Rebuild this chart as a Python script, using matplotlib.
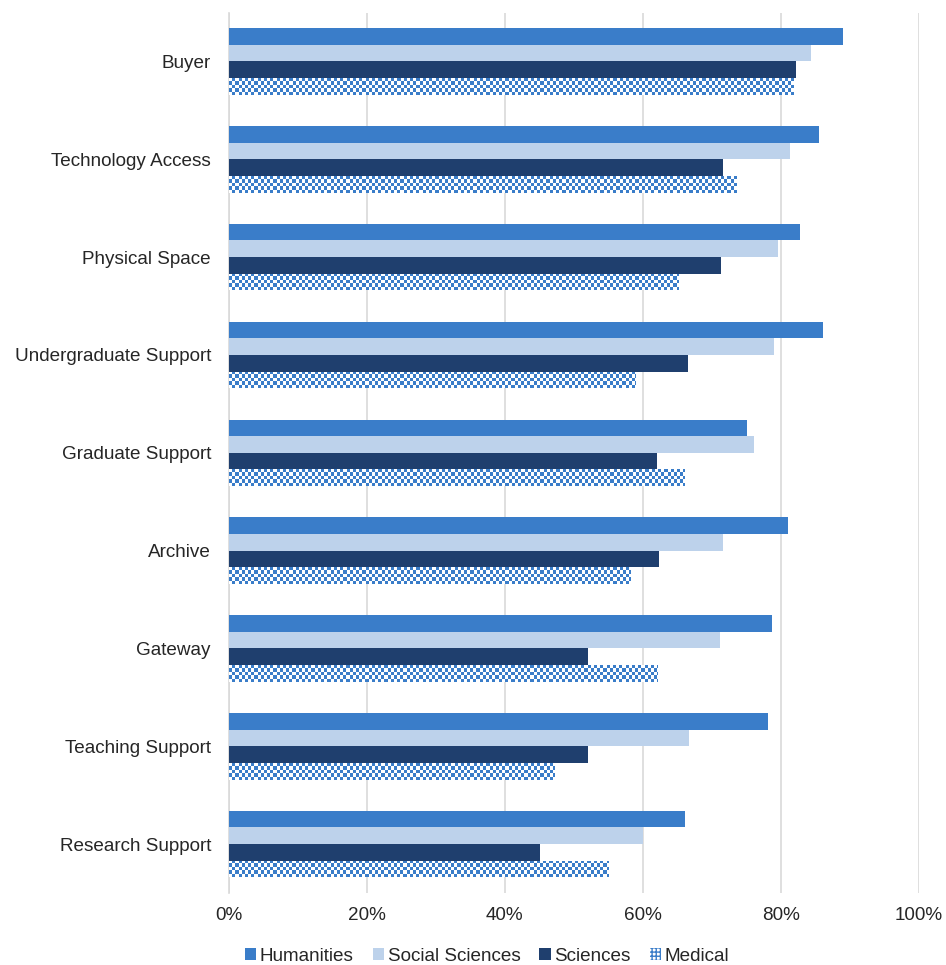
import numpy as np
import matplotlib
matplotlib.use("Agg")
import matplotlib.pyplot as plt
from matplotlib.colors import ListedColormap
from matplotlib.patches import Patch
from matplotlib.ticker import PercentFormatter

plt.rcParams['font.family'] = ['Liberation Sans', 'DejaVu Sans']

# datos (en %)
categorias = ['Buyer', 'Technology Access', 'Physical Space', 'Undergraduate Support',
              'Graduate Support', 'Archive', 'Gateway', 'Teaching Support', 'Research Support']
humanities = [89.0, 85.6, 82.8, 86.2, 75.1, 81.0, 78.8, 78.1, 66.2]
social_sciences = [84.4, 81.3, 79.6, 79.0, 76.1, 71.6, 71.2, 66.7, 60.1]
sciences = [82.2, 71.7, 71.3, 66.5, 62.1, 62.3, 52.1, 52.1, 45.1]
medical = [81.8, 73.6, 65.2, 59.0, 66.0, 58.2, 62.2, 47.2, 55.1]
ticks_x = [0, 20, 40, 60, 80, 100]

azul = '#3a7dc9'
azul_claro = '#bdd2eb'
azul_oscuro = '#1f3f6e'
gris = '#d9d9d9'
texto = '#262626'

fig = plt.figure(figsize=(9.46, 9.65), dpi=100)
ax = fig.add_axes([0.242, 0.0746, 0.729, 0.9124])

y = np.arange(len(categorias))
alto = 0.17

ax.barh(y - 1.5 * alto, humanities, height=alto, color=azul, zorder=3)
ax.barh(y - 0.5 * alto, social_sciences, height=alto, color=azul_claro, zorder=3)
ax.barh(y + 0.5 * alto, sciences, height=alto, color=azul_oscuro, zorder=3)
barras_med = ax.barh(y + 1.5 * alto, medical, height=alto, color='white', zorder=3)

# patron de cuadritos para Medical
celda_x = 0.46
celdas_y = 5
cmap_cuadros = ListedColormap(['white', azul])
for rect in barras_med:
    x0, y0 = rect.get_x(), rect.get_y()
    w, h = rect.get_width(), rect.get_height()
    nx = int(w / celda_x) + 1
    ii, jj = np.indices((celdas_y, nx))
    cuadros = (ii + jj) % 2
    img = ax.imshow(cuadros, cmap=cmap_cuadros, extent=(x0, x0 + nx * celda_x, y0 + h, y0),
                    aspect='auto', interpolation='nearest', zorder=4, vmin=0, vmax=1)
    img.set_clip_path(rect)

ax.set_xlim(0, 100)
ax.set_ylim(len(categorias) - 0.5, -0.5)
ax.set_xticks(ticks_x)
ax.xaxis.set_major_formatter(PercentFormatter(decimals=0))
ax.set_yticks(y)
ax.set_yticklabels(categorias)
ax.tick_params(axis='both', length=0, labelsize=13.6, colors=texto)
ax.tick_params(axis='y', pad=13)
ax.tick_params(axis='x', pad=10)
ax.grid(axis='x', color=gris, linewidth=1.2, zorder=0)
ax.set_axisbelow(True)
for lado in ['top', 'right', 'bottom']:
    ax.spines[lado].set_visible(False)
ax.spines['left'].set_color(gris)
ax.spines['left'].set_linewidth(1.2)

handles = [
    Patch(facecolor=azul, label='Humanities'),
    Patch(facecolor=azul_claro, label='Social Sciences'),
    Patch(facecolor=azul_oscuro, label='Sciences'),
    Patch(facecolor='white', edgecolor=azul, hatch='++++', linewidth=0, label='Medical'),
]
fig.legend(handles=handles, loc='center', bbox_to_anchor=(0.515, 0.009), ncol=4,
           frameon=False, fontsize=13.6, handlelength=0.6, handleheight=0.6,
           handletextpad=0.2, columnspacing=1.0, labelcolor=texto)

plt.savefig('out.png', dpi=100)
